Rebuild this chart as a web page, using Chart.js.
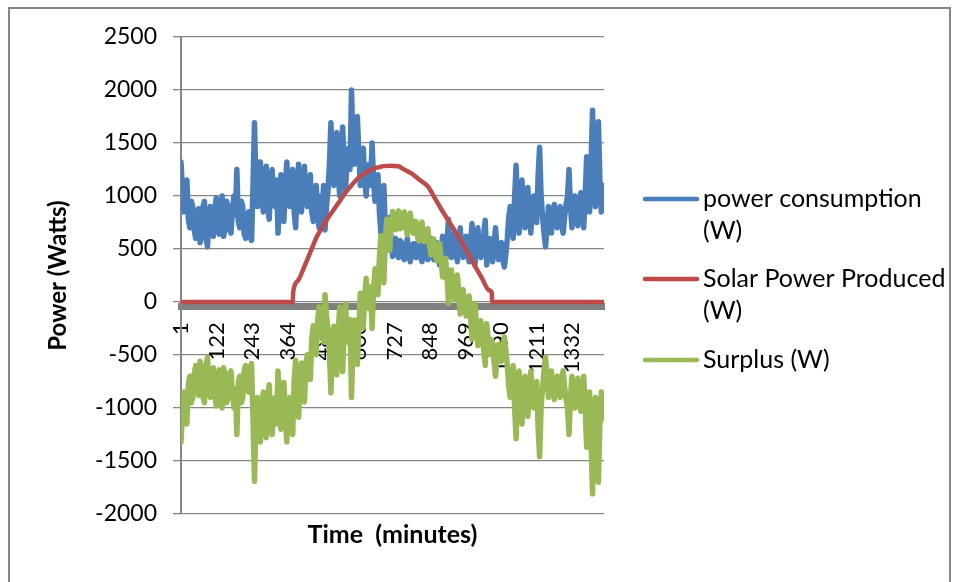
<!DOCTYPE html>
<html><head><meta charset="utf-8">
<script src="https://cdn.jsdelivr.net/npm/chart.js@4.4.1/dist/chart.umd.min.js"></script>
<style>html,body{margin:0;padding:0;background:#fff;}#wrap{width:958px;height:582px;}</style>
</head><body><div id="wrap"><canvas id="c" width="958" height="582"></canvas></div>
<script>
const minutes = [1,6,11,16,21,26,31,36,41,46,51,56,61,66,71,76,81,86,91,96,
101,106,111,116,121,126,131,136,141,146,151,156,161,166,171,176,181,186,191,196,
201,206,211,216,221,226,231,236,241,246,251,256,261,266,271,276,281,286,291,296,
301,306,311,316,321,326,331,336,341,346,351,356,361,366,371,376,381,386,391,396,
401,406,411,416,421,426,431,436,441,446,451,456,461,466,471,476,481,486,491,496,
501,506,511,516,521,526,531,536,541,546,551,556,561,566,571,576,581,586,591,596,
601,606,611,616,621,626,631,636,641,646,651,656,661,666,671,676,681,686,691,696,
701,706,711,716,721,726,731,736,741,746,751,756,761,766,771,776,781,786,791,796,
801,806,811,816,821,826,831,836,841,846,851,856,861,866,871,876,881,886,891,896,
901,906,911,916,921,926,931,936,941,946,951,956,961,966,971,976,981,986,991,996,
1001,1006,1011,1016,1021,1026,1031,1036,1041,1046,1051,1056,1061,1066,1071,1076,1081,1086,1091,1096,
1101,1106,1111,1116,1121,1126,1131,1136,1141,1146,1151,1156,1161,1166,1171,1176,1181,1186,1191,1196,
1201,1206,1211,1216,1221,1226,1231,1236,1241,1246,1251,1256,1261,1266,1271,1276,1281,1286,1291,1296,
1301,1306,1311,1316,1321,1326,1331,1336,1341,1346,1351,1356,1361,1366,1371,1376,1381,1386,1391,1396,
1401,1406,1411,1416,1421,1426,1431,1436,1440];
const consumption = [1320,1050,850,1000,1150,780,700,950,900,680,600,820,880,560,650,900,950,600,520,760,
900,680,620,880,980,700,640,920,1000,620,700,950,900,680,650,860,1000,820,1250,760,
700,950,900,640,600,800,850,620,580,1100,1690,1100,900,1200,1320,1000,850,1150,1280,900,
780,1100,1250,1000,900,1150,650,900,1200,1000,760,1100,1320,1000,900,1150,1250,850,700,1050,
1300,1000,850,1150,1280,950,900,1100,1200,850,760,1000,1100,800,700,1000,800,1100,680,900,
1050,1300,1690,1250,1100,1400,1600,1200,1000,1300,1650,1250,1050,1400,1450,1250,2000,1500,1300,1550,
1750,1400,1100,1350,1450,1150,1000,1250,1300,1100,1500,1150,950,1100,1200,850,650,900,1100,700,
500,650,800,550,430,520,600,450,420,580,560,420,400,520,600,450,380,500,550,430,
420,560,580,430,380,500,540,420,400,520,600,450,400,520,560,420,350,480,620,480,
400,550,780,500,420,560,650,480,380,520,700,480,420,560,620,450,380,550,740,500,
350,520,700,480,420,560,650,770,350,480,600,450,380,560,700,500,400,520,560,400,
330,450,600,800,900,700,600,1000,1290,900,650,950,1150,850,700,950,1080,800,650,880,
1000,800,750,1200,1460,1000,800,650,520,700,900,750,650,850,920,760,700,850,900,720,
650,800,920,1000,1250,900,700,880,1000,800,720,900,1030,850,700,1000,1370,1100,850,1300,
1810,1200,900,1200,1700,1150,850,1100,1000];
const surplus = [-1320,-1050,-850,-1000,-1150,-780,-700,-950,-900,-680,-600,-820,-880,-560,-650,-900,-950,-600,-520,-760,
-900,-680,-620,-880,-980,-700,-640,-920,-1000,-620,-700,-950,-900,-680,-650,-860,-1000,-820,-1250,-760,
-700,-950,-900,-640,-600,-800,-850,-620,-580,-1100,-1690,-1100,-900,-1200,-1320,-1000,-850,-1150,-1280,-900,
-780,-1100,-1250,-1000,-900,-1150,-650,-900,-1200,-1000,-760,-1100,-1320,-1000,-900,-1150,-1250,-731,-550,-869,
-1088,-757,-576,-845,-943,-580,-497,-664,-730,-347,-224,-431,-497,-170,-46,-323,-99,-376,68,-129,
-256,-487,-857,-398,-228,-508,-687,-267,-47,-327,-656,-236,-17,-350,-383,-166,-900,-384,-169,-403,
-588,-228,83,-157,-247,63,223,-18,-62,144,-249,107,313,166,69,423,626,379,182,583,
784,634,485,735,854,763,682,831,859,691,704,836,849,721,634,776,839,711,650,759,
757,606,575,714,753,622,571,680,689,548,444,570,596,452,389,505,551,397,235,353,
411,239,-13,245,302,140,28,176,254,91,-114,81,117,-48,-133,12,57,-138,-352,-137,
-12,-206,-410,-214,-178,-342,-456,-600,-204,-357,-494,-355,-380,-560,-700,-500,-400,-520,-560,-400,
-330,-450,-600,-800,-900,-700,-600,-1000,-1290,-900,-650,-950,-1150,-850,-700,-950,-1080,-800,-650,-880,
-1000,-800,-750,-1200,-1460,-1000,-800,-650,-520,-700,-900,-750,-650,-850,-920,-760,-700,-850,-900,-720,
-650,-800,-920,-1000,-1250,-900,-700,-880,-1000,-800,-720,-900,-1030,-850,-700,-1000,-1370,-1100,-850,-1300,
-1810,-1200,-900,-1200,-1700,-1150,-850,-1100,-1000];
const solarMinutes = [1,381,383,400,420,440,463,480,500,520,540,560,577,600,620,634,660,675,690,712,740,760,785,812,842,865,888,915,945,975,1002,1025,1048,1058,1060,1440];
const solarPower   = [0,0,100,206,330,463,616,696,790,868,949,1030,1087,1160,1201,1229,1262,1272,1282,1285,1280,1250,1213,1153,1087,977,868,749,616,467,333,223,113,90,0,0];
const xTickValues = [1,122,243,364,485,606,727,848,969,1090,1211,1332];
const yMin = -2000, yMax = 2500, yStep = 500;
const seriesNames = ['power consumption (W)', 'Solar Power Produced (W)', 'Surplus (W)'];
const seriesColors = ['#4A7EBB', '#BE4B48', '#98B954'];
const xTitle = 'Time  (minutes)';
const yTitle = 'Power (Watts)';

const FONT = 'Lato';
const pts = (xs, ys) => xs.map((x, i) => ({x: x, y: ys[i]}));

const framePlugin = {
  id: 'frame',
  beforeDraw(chart) {
    const c = chart.ctx;
    c.save();
    c.fillStyle = '#fff';
    c.fillRect(0, 0, chart.width, chart.height);
    c.strokeStyle = '#868686';
    c.lineWidth = 2;
    c.strokeRect(9, 8, 941, 620);
    c.restore();
  }
};

const extrasPlugin = {
  id: 'extras',
  afterDraw(chart) {
    const c = chart.ctx;
    const a = chart.chartArea;
    c.save();
    c.fillStyle = '#000';
    c.font = 'bold 25px ' + FONT;
    c.textAlign = 'center';
    c.textBaseline = 'middle';
    c.fillText(xTitle, (a.left + a.right) / 2, 535);
    c.font = '25px ' + FONT;
    c.textAlign = 'left';
    const ys = [199, 279, 360];
    const maxW = 250;
    chart.data.datasets.forEach((ds, i) => {
      const words = ds.label.split(' ');
      const lines = [];
      let cur = '';
      words.forEach(w => {
        const t = cur ? cur + ' ' + w : w;
        if (c.measureText(t).width > maxW && cur) { lines.push(cur); cur = w; } else cur = t;
      });
      if (cur) lines.push(cur);
      c.strokeStyle = ds.borderColor;
      c.lineWidth = 4.5;
      c.lineCap = 'round';
      c.beginPath();
      c.moveTo(645, ys[i]);
      c.lineTo(697, ys[i]);
      c.stroke();
      c.fillStyle = '#000';
      lines.forEach((ln, k) => c.fillText(ln, 703, ys[i] + k * 32));
    });
    c.restore();
  }
};

new Chart(document.getElementById('c'), {
  type: 'line',
  data: {
    datasets: [
      { label: seriesNames[0], data: pts(minutes, consumption), borderColor: seriesColors[0], backgroundColor: seriesColors[0], borderWidth: 5.5, order: 3 },
      { label: seriesNames[1], data: pts(solarMinutes, solarPower), borderColor: seriesColors[1], backgroundColor: seriesColors[1], borderWidth: 4.5, order: 2, cubicInterpolationMode: 'monotone' },
      { label: seriesNames[2], data: pts(minutes, surplus), borderColor: seriesColors[2], backgroundColor: seriesColors[2], borderWidth: 5.5, order: 1 }
    ]
  },
  options: {
    responsive: false,
    animation: false,
    devicePixelRatio: 1,
    layout: { padding: { left: 0, top: 37, right: 354, bottom: 68 } },
    elements: { point: { radius: 0 }, line: { tension: 0, borderJoinStyle: 'round', borderCapStyle: 'round' } },
    plugins: { legend: { display: false }, tooltip: { enabled: false }, title: { display: false } },
    scales: {
      x: {
        type: 'linear',
        position: { y: -40 },
        min: 1, max: 1440,
        afterBuildTicks: s => { s.ticks = xTickValues.map(v => ({ value: v })); },
        ticks: { autoSkip: false, maxRotation: 90, minRotation: 90, padding: 8, color: '#000', font: { family: FONT, size: 22 }, callback: v => String(v) },
        grid: { display: false },
        border: { display: true, color: '#808080', width: 7 }
      },
      y: {
        min: yMin, max: yMax,
        ticks: { stepSize: yStep, padding: 16, color: '#000', font: { family: FONT, size: 23 }, callback: v => String(v) },
        grid: { color: '#868686', lineWidth: 1.3, tickLength: 8, drawTicks: true },
        border: { color: '#868686', width: 2 },
        title: { display: true, text: yTitle, color: '#000', font: { family: FONT, size: 24, weight: 'bold' }, padding: { top: 44, bottom: 0 } },
        afterFit: s => { s.width = 181; }
      }
    }
  },
  plugins: [framePlugin, extrasPlugin]
});
</script></body></html>
